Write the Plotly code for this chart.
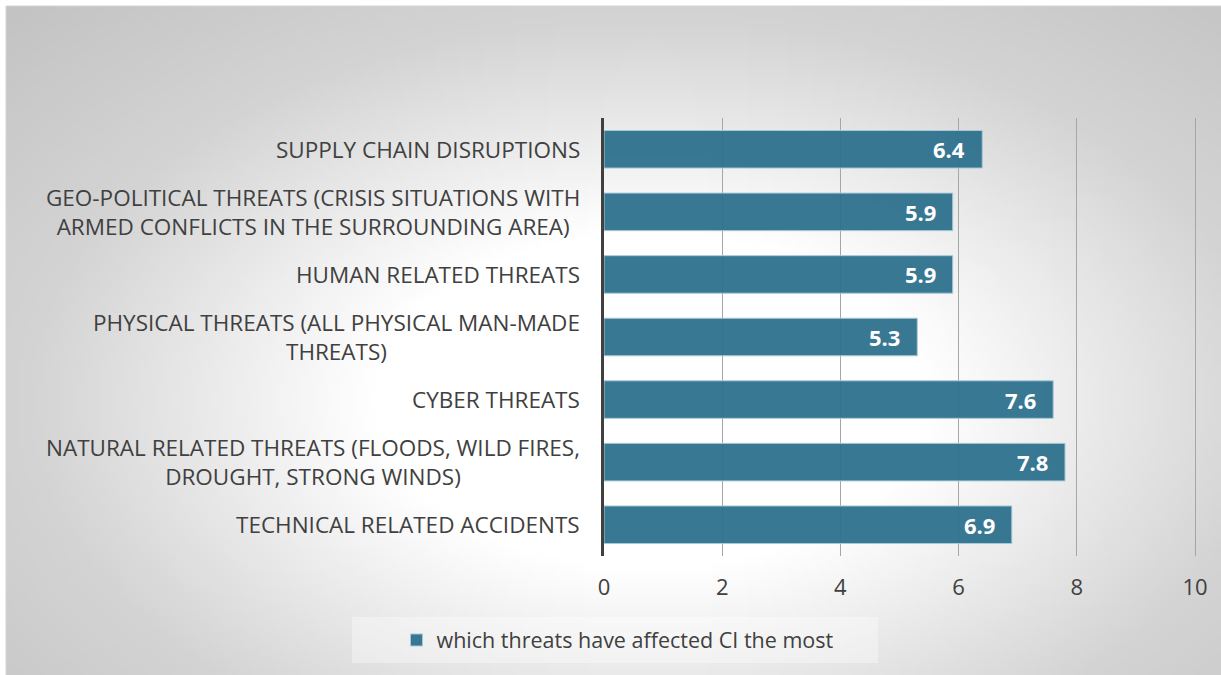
import base64
import struct
import zlib

import plotly.graph_objects as go

# Survey results: average score per threat type
categories = [
    "SUPPLY CHAIN DISRUPTIONS",
    "GEO-POLITICAL THREATS (CRISIS SITUATIONS WITH<br>ARMED CONFLICTS IN THE SURROUNDING AREA)",
    "HUMAN RELATED THREATS",
    "PHYSICAL THREATS (ALL PHYSICAL MAN-MADE<br>THREATS)",
    "CYBER THREATS",
    "NATURAL RELATED THREATS (FLOODS, WILD FIRES,<br>DROUGHT, STRONG WINDS)",
    "TECHNICAL RELATED ACCIDENTS",
]
values = [6.4, 5.9, 5.9, 5.3, 7.6, 7.8, 6.9]
series_name = "which threats have affected CI the most"
x_ticks = [0, 2, 4, 6, 8, 10]

W, H = 1221, 675
X_MAX = 10.05
L, T, B = 604, 118, 556  # plot area edges in pixels
PX_PER_UNIT = 59.1
R = round(L + PX_PER_UNIT * X_MAX)
BAR = "rgba(44,112,140,0.94)"
TXT = "#404040"
FONT = "Open Sans"


def radial_png(w, h):
    """Grey radial background, light centre fading to grey edges."""
    cx, cy, rx, ry = 0.53, 0.59, 0.51, 0.57
    rows = []
    for j in range(h):
        row = bytearray([0])
        y = (j + 0.5) / h
        for i in range(w):
            x = (i + 0.5) / w
            r = (((x - cx) / rx) ** 2 + ((y - cy) / ry) ** 2) ** 0.5
            if r < 0.45:
                v = 255
            elif r < 1.0:
                v = 255 - 78 * (r - 0.45)
            else:
                v = 212 - 37 * (r - 1.0)
            v = int(max(190, min(255, v)))
            row += bytes((v, v, v))
        rows.append(bytes(row))
    raw = b"".join(rows)

    def chunk(tag, data):
        c = struct.pack(">I", len(data)) + tag + data
        return c + struct.pack(">I", zlib.crc32(tag + data) & 0xFFFFFFFF)

    png = b"\x89PNG\r\n\x1a\n"
    png += chunk(b"IHDR", struct.pack(">IIBBBBB", w, h, 8, 2, 0, 0, 0))
    png += chunk(b"IDAT", zlib.compress(raw, 9))
    png += chunk(b"IEND", b"")
    return "data:image/png;base64," + base64.b64encode(png).decode()


def px_to_paper_x(px):
    return (px - L) / (R - L)


def px_to_paper_y(py):
    return (B - py) / (B - T)


fig = go.Figure()
fig.add_trace(
    go.Bar(
        x=values,
        y=categories,
        orientation="h",
        name=series_name,
        marker=dict(color=BAR, line=dict(color="#a9c9d8", width=1)),
        width=0.6,
        showlegend=True,
    )
)

# category labels, centred line by line, right-aligned against the axis
for cat in categories:
    fig.add_annotation(
        x=0, y=cat, xref="x", yref="y", text=cat, showarrow=False,
        xanchor="right", xshift=-22, align="center",
        font=dict(family=FONT, size=22.5, color=TXT),
    )

# value labels inside the bar ends
for cat, v in zip(categories, values):
    fig.add_annotation(
        x=v, y=cat, xref="x", yref="y", text=f"{v:.1f}", showarrow=False,
        xanchor="right", xshift=-15,
        font=dict(family=FONT, size=22, color="white", weight="bold"),
    )

bg_left, bg_top = 6, 6
fig.add_layout_image(
    source=radial_png(244, 134),
    xref="paper", yref="paper",
    x=px_to_paper_x(bg_left), y=px_to_paper_y(bg_top),
    sizex=(W - bg_left) / (R - L), sizey=(H - bg_top) / (B - T),
    xanchor="left", yanchor="top", sizing="stretch", layer="below",
)

# frame edge and legend panel
fig.add_shape(
    type="rect", xref="paper", yref="paper",
    x0=px_to_paper_x(bg_left), x1=px_to_paper_x(W + 2),
    y0=px_to_paper_y(H + 2), y1=px_to_paper_y(bg_top),
    line=dict(color="#d4d4d4", width=1), fillcolor="rgba(0,0,0,0)", layer="below",
)
fig.add_shape(
    type="rect", xref="paper", yref="paper",
    x0=px_to_paper_x(352), x1=px_to_paper_x(878),
    y0=px_to_paper_y(663), y1=px_to_paper_y(617),
    line=dict(width=0), fillcolor="rgba(255,255,255,0.35)", layer="below",
)

fig.update_layout(
    width=W, height=H,
    margin=dict(l=L, r=W - R, t=T, b=H - B, pad=0),
    paper_bgcolor="white",
    plot_bgcolor="rgba(0,0,0,0)",
    bargap=0.4,
    font=dict(family=FONT, size=20, color=TXT),
    showlegend=True,
    legend=dict(
        orientation="h", xref="container", yref="container",
        x=618 / W, y=1 - 640 / H, xanchor="center", yanchor="middle",
        bgcolor="rgba(0,0,0,0)", font=dict(family=FONT, size=21.5, color=TXT),
        itemwidth=30,
    ),
    xaxis=dict(
        range=[0, X_MAX], tickvals=x_ticks, showgrid=True,
        gridcolor="#a6a6a6", gridwidth=1, zeroline=False, showline=False,
        ticks="", tickfont=dict(family=FONT, size=22, color=TXT),
        ticklabelstandoff=16,
    ),
    yaxis=dict(
        autorange="reversed", showticklabels=False, showgrid=False,
        showline=True, linecolor="#404040", linewidth=3, ticks="",
        zeroline=False,
    ),
)

fig.write_html("out.html")
